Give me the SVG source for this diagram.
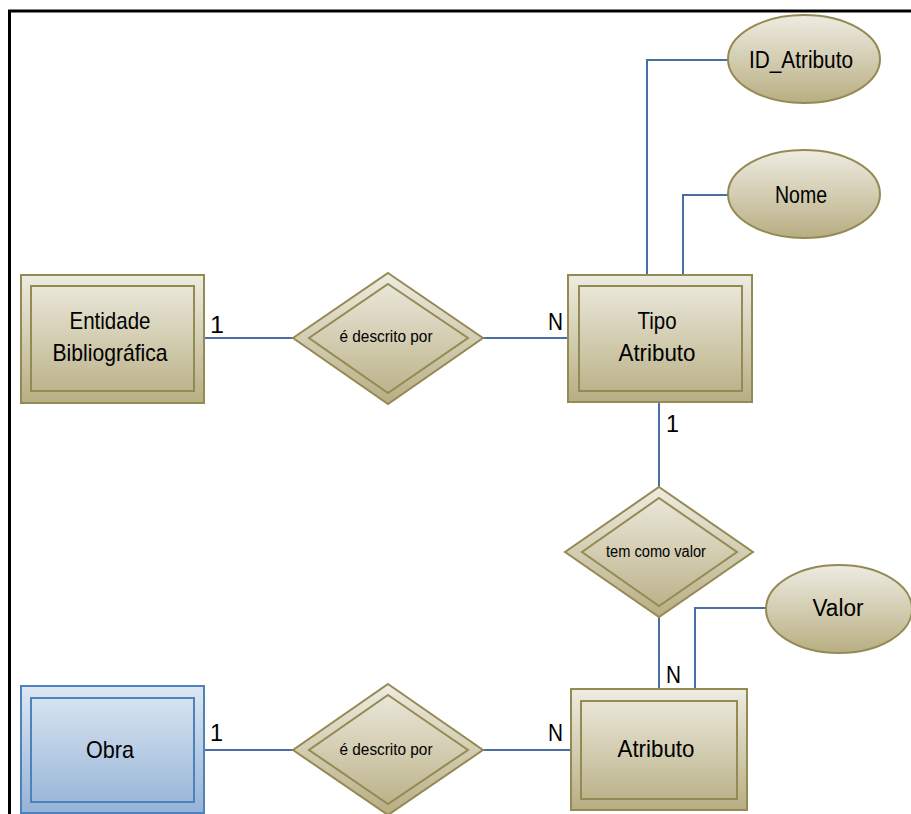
<svg xmlns="http://www.w3.org/2000/svg" width="911" height="814" viewBox="0 0 911 814">
<defs>
<linearGradient id="tan" x1="0" y1="0" x2="0" y2="1">
<stop offset="0" stop-color="#eeece1"/>
<stop offset="1" stop-color="#b8ae83"/>
</linearGradient>
<linearGradient id="blue" x1="0" y1="0" x2="0" y2="1">
<stop offset="0" stop-color="#dde7f2"/>
<stop offset="1" stop-color="#95b3d7"/>
</linearGradient>
<style>
.t{fill:url(#tan);stroke:#948a54;stroke-width:2}
.ti{fill:none;stroke:#948a54;stroke-width:2}
.b{fill:url(#blue);stroke:#4f81bd;stroke-width:2}
.bi{fill:none;stroke:#4f81bd;stroke-width:2}
.c{fill:none;stroke:#4a6fa5;stroke-width:2}
text{font-family:"Liberation Sans",Arial,sans-serif;fill:#000;text-anchor:middle}
.e{font-size:24px}
.r{font-size:16px}
.a{font-size:23px}
.l{font-size:23px;text-anchor:start}
</style>
</defs>
<rect width="911" height="814" fill="#fff"/>
<path d="M9.5 814 V11 H911" fill="none" stroke="#000" stroke-width="3"/>
<g id="connectors">
<path class="c" d="M204 338 H293"/>
<path class="c" d="M483 338 H568"/>
<path class="c" d="M647 275 V60 H728"/>
<path class="c" d="M683 275 V195 H728"/>
<path class="c" d="M659 402 V487"/>
<path class="c" d="M659 617 V689"/>
<path class="c" d="M695 689 V608 H766"/>
<path class="c" d="M204 750 H293"/>
<path class="c" d="M483 750 H571"/>
<text class="l" x="210" y="333" textLength="14" lengthAdjust="spacingAndGlyphs">1</text>
<text class="l" x="548" y="330" textLength="15" lengthAdjust="spacingAndGlyphs">N</text>
<text class="l" x="666" y="432" textLength="13" lengthAdjust="spacingAndGlyphs">1</text>
<text class="l" x="666" y="683" textLength="15" lengthAdjust="spacingAndGlyphs">N</text>
<text class="l" x="210" y="741" textLength="13" lengthAdjust="spacingAndGlyphs">1</text>
<text class="l" x="548" y="741" textLength="15" lengthAdjust="spacingAndGlyphs">N</text>
</g>
<g id="entidade">
<rect class="t" x="21" y="275" width="183" height="128"/>
<rect class="ti" x="31" y="286" width="163" height="105"/>
<text class="e" x="110" y="329" textLength="81" lengthAdjust="spacingAndGlyphs">Entidade</text>
<text class="e" x="110" y="361" textLength="115" lengthAdjust="spacingAndGlyphs">Bibliográfica</text>
</g>
<g id="rel1">
<polygon class="t" points="388,273 483,338 388,404 293,338"/>
<polygon class="ti" points="388,284 468,338 388,393 309,338"/>
<text class="r" x="386" y="342" textLength="93" lengthAdjust="spacingAndGlyphs">é descrito por</text>
</g>
<g id="tipo">
<rect class="t" x="568" y="275" width="184" height="127"/>
<rect class="ti" x="579" y="286" width="163" height="105"/>
<text class="e" x="657" y="329" textLength="39" lengthAdjust="spacingAndGlyphs">Tipo</text>
<text class="e" x="657" y="361" textLength="77" lengthAdjust="spacingAndGlyphs">Atributo</text>
</g>
<g id="idatributo">
<ellipse class="t" cx="804" cy="59" rx="76" ry="44"/>
<text class="a" x="801" y="68" textLength="104" lengthAdjust="spacingAndGlyphs">ID_Atributo</text>
</g>
<g id="nome">
<ellipse class="t" cx="804" cy="194" rx="76" ry="44"/>
<text class="a" x="801" y="203" textLength="52" lengthAdjust="spacingAndGlyphs">Nome</text>
</g>
<g id="rel2">
<polygon class="t" points="659,487 753,552 659,617 565,552"/>
<polygon class="ti" points="659,498 737,552 659,606 582,552"/>
<text class="r" x="656" y="557" textLength="100" lengthAdjust="spacingAndGlyphs">tem como valor</text>
</g>
<g id="valor">
<ellipse class="t" cx="839" cy="609" rx="73" ry="44"/>
<text class="a" x="838" y="616" textLength="51" lengthAdjust="spacingAndGlyphs">Valor</text>
</g>
<g id="obra">
<rect class="b" x="21" y="686" width="183" height="127"/>
<rect class="bi" x="31" y="698" width="163" height="104"/>
<text class="e" x="110" y="758" textLength="48" lengthAdjust="spacingAndGlyphs">Obra</text>
</g>
<g id="rel3">
<polygon class="t" points="388,684 483,750 388,815 293,750"/>
<polygon class="ti" points="388,695 468,750 388,804 309,750"/>
<text class="r" x="386" y="755" textLength="93" lengthAdjust="spacingAndGlyphs">é descrito por</text>
</g>
<g id="atributo">
<rect class="t" x="571" y="689" width="176" height="121"/>
<rect class="ti" x="581" y="701" width="156" height="98"/>
<text class="e" x="656" y="757" textLength="77" lengthAdjust="spacingAndGlyphs">Atributo</text>
</g>
</svg>
